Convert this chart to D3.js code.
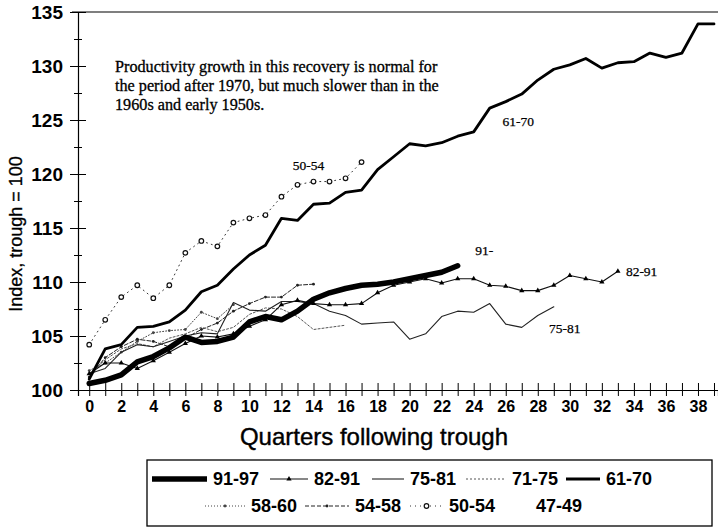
<!DOCTYPE html>
<html>
<head>
<meta charset="utf-8">
<script src="https://cdn.jsdelivr.net/npm/d3@7"></script>
<style>
  body { margin: 0; background: #fff; }
  svg { display: block; }
</style>
</head>
<body>
<script>
// values, index with trough = 100, by quarter from 0
var s9197 = [100.6, 100.9, 101.4, 102.6, 103.1, 103.9, 104.9, 104.4, 104.5, 104.9, 106.3, 106.8, 106.5, 107.3, 108.4, 109.0, 109.4, 109.7, 109.8, 110.0, 110.3, 110.6, 110.9, 111.5];
var s8291 = [101.5, 102.5, 102.5, 102.0, 102.7, 103.5, 104.3, 105.0, 104.9, 105.2, 105.9, 106.5, 107.9, 108.3, 108.0, 107.9, 107.9, 108.0, 109.0, 109.7, 110.0, 110.3, 109.9, 110.3, 110.3, 109.7, 109.6, 109.2, 109.2, 109.7, 110.6, 110.3, 110.0, 111.0];
var s7581 = [101.5, 102.0, 103.5, 104.2, 104.0, 104.5, 105.0, 105.3, 105.2, 108.1, 107.4, 107.3, 108.2, 108.2, 108.0, 107.3, 106.9, 106.1, 106.2, 106.3, 104.7, 105.2, 106.8, 107.3, 107.2, 108.0, 106.1, 105.8, 106.9, 107.7];
var s7175 = [101.5, 102.8, 103.8, 104.3, 104.0, 104.8, 105.2, 105.8, 105.4, 105.8, 107.0, 107.6, 107.5, 106.8, 105.6, 105.8, 106.0];
var s6170 = [101.0, 103.8, 104.2, 105.8, 105.9, 106.3, 107.4, 109.1, 109.7, 111.2, 112.5, 113.4, 115.9, 115.7, 117.2, 117.3, 118.3, 118.5, 120.4, 121.6, 122.8, 122.6, 122.9, 123.5, 123.9, 126.1, 126.7, 127.4, 128.7, 129.7, 130.1, 130.7, 129.8, 130.3, 130.4, 131.2, 130.8, 131.2, 133.9, 133.9];
var s5860 = [101.8, 102.5, 103.5, 104.5, 105.3, 105.5, 105.6, 107.2, 106.6, 107.9];
var s5458 = [101.2, 103.0, 104.0, 104.7, 104.5, 104.0, 104.8, 105.6, 106.2, 107.3, 108.0, 108.6, 108.6, 109.7, 109.8];
var s5054 = [104.2, 106.5, 108.6, 109.7, 108.5, 109.7, 112.7, 113.8, 113.3, 115.5, 115.9, 116.2, 117.9, 119.0, 119.3, 119.3, 119.6, 121.1];
var s4749 = [];

var seriesNames = ["91-97", "82-91", "75-81", "71-75", "61-70", "58-60", "54-58", "50-54", "47-49"];
var seriesValues = [s9197, s8291, s7581, s7175, s6170, s5860, s5458, s5054, s4749];

var yTicks = d3.range(100, 135.1, 2.5);
var xTicks = d3.range(0, 40, 1);

var note = ["Productivity growth in this recovery is normal for",
            "the period after 1970, but much slower than in the",
            "1960s and early 1950s."];

// labels beside the lines: [text, quarter, index]
var lineLabels = [["61-70", 25.8, 124.4], ["50-54", 12.7, 120.4], ["91-", 24.1, 112.5], ["82-91", 33.5, 110.6], ["75-81", 28.7, 105.3]];

// look of each series
var styles = {
  "91-97": {w: 5.5, dash: null, col: "#000", mark: null},
  "82-91": {w: 1.1, dash: null, col: "#111", mark: "tri"},
  "75-81": {w: 1.1, dash: null, col: "#222", mark: null},
  "71-75": {w: 1, dash: "2,2", col: "#555", mark: null},
  "61-70": {w: 2.8, dash: null, col: "#000", mark: null},
  "58-60": {w: 1, dash: "1,2", col: "#444", mark: "dot"},
  "54-58": {w: 1, dash: "4,2", col: "#222", mark: "dot"},
  "50-54": {w: 1, dash: "1,4", col: "#333", mark: "circ"},
  "47-49": {w: 1, dash: null, col: "none", mark: null}
};

var W = 718, H = 530;
var sans = "'Liberation Sans', Arial, sans-serif";
var serif = "'Liberation Serif', 'Times New Roman', serif";
var svg = d3.select("body").append("svg").attr("width", W).attr("height", H);

var x = d3.scaleLinear().domain([-0.7, 39.25]).range([78, 718]);
var y = d3.scaleLinear().domain([100, 135]).range([390, 12]);

// top frame line
svg.append("line")
  .attr("x1", 72).attr("x2", W).attr("y1", y(135)).attr("y2", y(135))
  .attr("stroke", "#000").attr("stroke-width", 1.2);

// y axis
var yAxis = svg.append("g").attr("transform", "translate(78,0)")
  .call(d3.axisLeft(y).tickValues(yTicks)
    .tickFormat(function(d){ return d % 5 == 0 ? d : ""; }));
yAxis.select(".domain").attr("stroke", "#000").attr("stroke-width", 1.2);
yAxis.selectAll(".tick line")
  .attr("x1", function(d){ return d % 5 == 0 ? -8 : -4; })
  .attr("x2", function(d){ return d % 5 == 0 ? 8 : 4; })
  .attr("stroke", "#000");
yAxis.selectAll(".tick text")
  .attr("x", -15)
  .style("font-family", sans)
  .style("font-size", "19px").style("font-weight", "bold").attr("fill", "#000");

// x axis
var xAxis = svg.append("g").attr("transform", "translate(0,390)")
  .call(d3.axisBottom(x).tickValues(xTicks)
    .tickFormat(function(d){ return d % 2 == 0 ? d : ""; }));
xAxis.select(".domain").attr("stroke", "#000").attr("stroke-width", 1.2);
xAxis.selectAll(".tick line").attr("y1", -7).attr("y2", 6).attr("stroke", "#000");
xAxis.selectAll(".tick text")
  .attr("y", 11)
  .style("font-family", sans)
  .style("font-size", "16px").style("font-weight", "bold").attr("fill", "#000");

// axis titles
svg.append("text")
  .attr("x", 374).attr("y", 445).attr("text-anchor", "middle")
  .style("font-family", sans).style("font-size", "24px")
  .attr("stroke", "#000").attr("stroke-width", 0.4)
  .text("Quarters following trough");
svg.append("text")
  .attr("transform", "translate(22,234) rotate(-90)").attr("text-anchor", "middle")
  .style("font-family", sans).style("font-size", "18px")
  .attr("stroke", "#000").attr("stroke-width", 0.3)
  .text("Index, trough = 100");

// series lines
var line = d3.line().x(function(d, i){ return x(i); }).y(function(d){ return y(d); });
var order = [7, 5, 6, 3, 2, 1, 4, 0];
order.forEach(function(k){
  var name = seriesNames[k], st = styles[name], vals = seriesValues[k];
  var g = svg.append("g").attr("class", "series");
  g.append("path").datum(vals).attr("d", line)
    .attr("fill", "none").attr("stroke", st.col).attr("stroke-width", st.w)
    .attr("stroke-linejoin", "round").attr("stroke-linecap", "round")
    .attr("stroke-dasharray", st.dash);
  drawMarks(g, vals.map(function(v, i){ return [x(i), y(v)]; }), st);
});

function drawMarks(g, pts, st){
  if (st.mark == "circ"){
    g.selectAll("circle").data(pts).enter().append("circle")
      .attr("cx", function(p){ return p[0]; }).attr("cy", function(p){ return p[1]; })
      .attr("r", 2.3).attr("fill", "#fff").attr("stroke", "#111").attr("stroke-width", 1.2);
  } else if (st.mark == "tri"){
    g.selectAll("path.m").data(pts).enter().append("path").attr("class", "m")
      .attr("d", d3.symbol(d3.symbolTriangle, 12))
      .attr("transform", function(p){ return "translate(" + p[0] + "," + p[1] + ")"; })
      .attr("fill", "#000");
  } else if (st.mark == "dot"){
    g.selectAll("circle").data(pts).enter().append("circle")
      .attr("cx", function(p){ return p[0]; }).attr("cy", function(p){ return p[1]; })
      .attr("r", 1.4).attr("fill", st.col);
  }
}

// labels next to lines
svg.selectAll("text.lab").data(lineLabels).enter().append("text").attr("class", "lab")
  .attr("x", function(d){ return x(d[1]); }).attr("y", function(d){ return y(d[2]); })
  .style("font-family", serif)
  .style("font-size", "13.5px").attr("stroke", "#000").attr("stroke-width", 0.25)
  .text(function(d){ return d[0]; });

// note
svg.append("text").attr("x", 115).attr("y", 72)
  .style("font-family", serif)
  .style("font-size", "16.2px").attr("stroke", "#000").attr("stroke-width", 0.3)
  .selectAll("tspan").data(note).enter().append("tspan")
  .attr("x", 115).attr("dy", function(d, i){ return i == 0 ? 0 : 19; })
  .text(function(d){ return d; });

// legend
var legX = [152, 270, 372, 466, 566, 205, 305, 410, 530];
var legRow = [0, 0, 0, 0, 0, 1, 1, 1, 1];
var legLen = [55, 38, 32, 40, 34, 40, 44, 33, 0];
svg.append("rect").attr("x", 147).attr("y", 460).attr("width", 565).attr("height", 66)
  .attr("fill", "#fff").attr("stroke", "#000").attr("stroke-width", 1.3);
seriesNames.forEach(function(name, k){
  var st = styles[name];
  var ly = 479 + legRow[k] * 27;
  var g = svg.append("g");
  if (legLen[k] > 0){
    g.append("line").attr("x1", legX[k]).attr("x2", legX[k] + legLen[k])
      .attr("y1", ly).attr("y2", ly)
      .attr("stroke", st.col).attr("stroke-width", st.w).attr("stroke-dasharray", st.dash);
    drawMarks(g, [[legX[k] + legLen[k] / 2, ly]], st);
  }
  g.append("text").attr("x", legX[k] + legLen[k] + 6).attr("y", ly + 6)
    .style("font-family", sans)
    .style("font-size", "18px").style("font-weight", "bold").text(name);
});
</script>
</body>
</html>
